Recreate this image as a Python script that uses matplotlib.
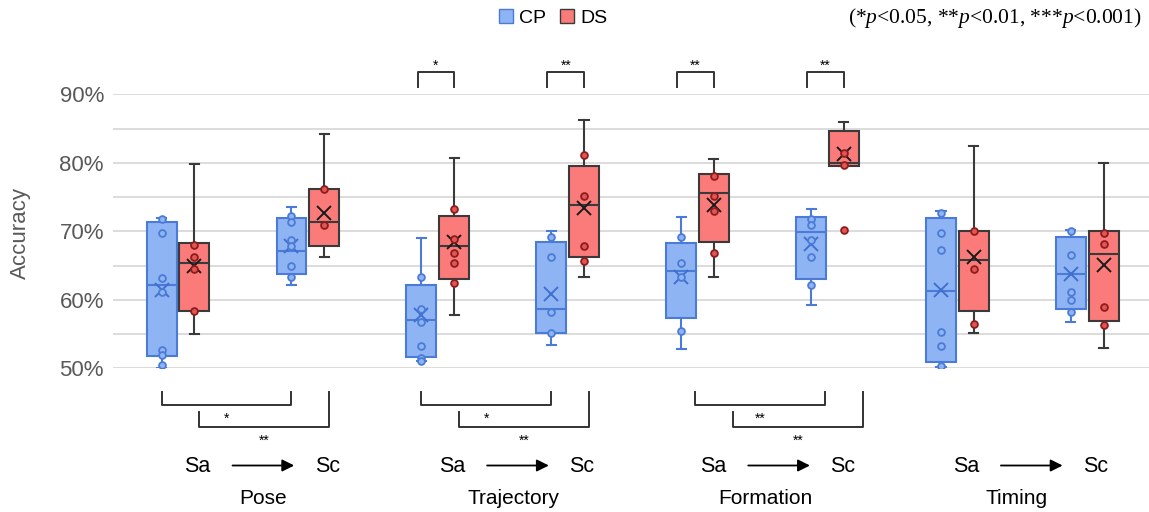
import matplotlib.pyplot as plt
from matplotlib.patches import Patch
from matplotlib.ticker import FuncFormatter, MultipleLocator

plt.rcParams['font.family'] = ['Liberation Sans', 'DejaVu Sans']
plt.rcParams['mathtext.fontset'] = 'custom'
plt.rcParams['mathtext.rm'] = 'Liberation Serif'
plt.rcParams['mathtext.it'] = 'Liberation Serif:italic'

# ===== dados (ordem: Pose Sa, Pose Sc, Traj Sa, Traj Sc, Form Sa, Form Sc, Tim Sa, Tim Sc)
tasks = ['Pose', 'Trajectory', 'Formation', 'Timing']
stages = ['Sa', 'Sc']
groups = ['CP', 'DS']

cp_whislo = [50.0, 62.1, 51.0, 53.4, 52.8, 59.3, 50.2, 56.7]
cp_q1 = [51.8, 63.8, 51.7, 55.2, 57.3, 63.1, 50.9, 58.6]
cp_med = [62.1, 67.1, 57.1, 58.6, 64.2, 69.9, 61.3, 63.8]
cp_q3 = [71.3, 71.9, 62.1, 68.4, 68.3, 72.1, 72.0, 69.2]
cp_whishi = [72.0, 73.6, 69.0, 70.1, 72.1, 73.2, 72.9, 70.2]
cp_mean = [61.5, 67.8, 57.8, 60.9, 63.4, 68.2, 61.4, 63.8]
cp_points = [
    [71.8, 69.8, 63.2, 61.1, 52.6, 51.9, 50.5],
    [72.2, 71.3, 68.8, 67.9, 65.0, 63.4],
    [63.3, 58.6, 56.8, 53.2, 51.5, 51.0],
    [69.2, 66.3, 58.2, 55.1],
    [69.2, 65.3, 63.3, 55.4],
    [71.8, 70.9, 68.8, 66.2, 62.1],
    [72.7, 69.8, 67.3, 55.3, 53.2, 50.3],
    [70.1, 66.6, 61.2, 60.0, 58.2],
]

ds_whislo = [55.0, 66.2, 57.8, 63.3, 63.3, 79.6, 55.1, 53.0]
ds_q1 = [58.4, 67.8, 63.1, 66.3, 68.4, 79.6, 58.4, 56.9]
ds_med = [65.4, 71.4, 67.8, 73.8, 75.6, 80.0, 65.8, 66.7]
ds_q3 = [68.3, 76.2, 72.3, 79.6, 78.4, 84.7, 70.1, 70.0]
ds_whishi = [79.8, 84.2, 80.7, 86.3, 80.6, 85.9, 82.5, 80.0]
ds_mean = [64.9, 72.7, 68.5, 73.4, 73.9, 81.3, 66.2, 65.1]
ds_points = [
    [68.0, 66.2, 64.5, 58.4],
    [76.2, 70.9],
    [73.3, 68.9, 66.8, 65.3, 62.4],
    [81.1, 75.2, 67.8, 65.7],
    [78.0, 75.2, 72.9, 66.9],
    [81.4, 79.7, 70.2],
    [70.0, 64.5, 56.4],
    [69.8, 68.2, 59.0, 56.3],
]

# significancia CP x DS (colchetes de cima)
top_slots = [2, 3, 4, 5]
top_marks = ['*', '**', '**', '**']
# significancia Sa x Sc (colchetes de baixo), por tarefa
bottom_tasks = [0, 1, 2]
bottom_cp_marks = ['*', '*', '**']
bottom_ds_marks = ['**', '**', '**']

# ===== estilo
cp_face, cp_edge = '#8fb4f4', '#4a7bd6'
ds_face, ds_edge = '#fb7b7b', '#3a3a3a'
grid_c = '#d9d9d9'
px = 6.85  # pixels por ponto percentual
off = 0.126

fig = plt.figure(figsize=(11.49, 5.12), dpi=100)
ax = fig.add_axes([113 / 1149, (512 - 368.3) / 512, (1149 - 113) / 1149, 274 / 512])

n = len(cp_med)
cp_pos = [k - off for k in range(n)]
ds_pos = [k + off for k in range(n)]


def stats(lo, q1, med, q3, hi, mean):
    return [dict(whislo=lo[i], q1=q1[i], med=med[i], q3=q3[i], whishi=hi[i], mean=mean[i])
            for i in range(len(med))]


for st, pos, fc, ec, mc, pts, pfc, pec in [
        (stats(cp_whislo, cp_q1, cp_med, cp_q3, cp_whishi, cp_mean), cp_pos, cp_face, cp_edge, '#3f6fcf',
         cp_points, cp_face, '#4a7bd6'),
        (stats(ds_whislo, ds_q1, ds_med, ds_q3, ds_whishi, ds_mean), ds_pos, ds_face, ds_edge, '#1a1a1a',
         ds_points, '#e25555', '#8e1c1c')]:
    ax.bxp(st, positions=pos, widths=0.23, capwidths=0.07, patch_artist=True,
           showmeans=True, showfliers=False,
           boxprops=dict(facecolor=fc, edgecolor=ec, linewidth=1.5),
           medianprops=dict(color=ec, linewidth=1.5),
           whiskerprops=dict(color=ec, linewidth=1.5),
           capprops=dict(color=ec, linewidth=1.5),
           meanprops=dict(marker='x', markeredgecolor=mc, markersize=10, markeredgewidth=1.4),
           zorder=3)
    for x, p in zip(pos, pts):
        ax.scatter([x] * len(p), p, s=24, facecolor=pfc, edgecolor=pec, linewidth=1.3, zorder=4)

ax.set_xlim(-0.5, (1149 - 178) / 129.9)
ax.set_ylim(50, 90)
ax.yaxis.set_major_locator(MultipleLocator(10))
ax.yaxis.set_minor_locator(MultipleLocator(5))
ax.yaxis.set_major_formatter(FuncFormatter(lambda v, _: f'{v:.0f}%'))
ax.tick_params(axis='y', which='both', length=0, pad=6.5, labelsize=16, labelcolor='#595959')
ax.set_xticks([])
ax.grid(True, axis='y', which='both', color=grid_c, linewidth=1.3, zorder=0)
ax.set_axisbelow(True)
for s in ax.spines.values():
    s.set_visible(False)

fig.text(20 / 1149, 1 - 233 / 512, 'Accuracy', rotation=90, ha='center', va='center',
         fontsize=16, color='#595959')


def y_of(py):
    return 50 + (368.3 - py) / px


kw = dict(color='#333333', linewidth=1.4, clip_on=False)

# colchetes de cima
for k, m in zip(top_slots, top_marks):
    x1, x2 = cp_pos[k] - 0.03, ds_pos[k]
    ax.plot([x1, x1, x2, x2], [y_of(86.7), y_of(71.7), y_of(71.7), y_of(86.7)], **kw)
    ax.text((x1 + x2) / 2, y_of(70), m, ha='center', va='baseline', fontsize=10, clip_on=False)

# colchetes de baixo
shift_a = [0.0, 0.0, 0.105]
shift_b = [0.036, 0.04, 0.148]
for g, ma, mb in zip(bottom_tasks, bottom_cp_marks, bottom_ds_marks):
    a1, a2 = cp_pos[2 * g] + shift_a[g], cp_pos[2 * g + 1] + shift_a[g]
    b1, b2 = ds_pos[2 * g] + shift_b[g], ds_pos[2 * g + 1] + shift_b[g]
    ax.plot([a1, a1, a2, a2], [y_of(392), y_of(405), y_of(405), y_of(392)], **kw)
    ax.plot([b1, b1, b2, b2], [y_of(411.7), y_of(426.7), y_of(426.7), y_of(392.5)], **kw)
    ax.text((a1 + a2) / 2, y_of(423), ma, ha='center', va='baseline', fontsize=10, clip_on=False)
    ax.text((b1 + b2) / 2, y_of(445), mb, ha='center', va='baseline', fontsize=10, clip_on=False)

# Sa -> Sc e nomes das tarefas
text_shift = [0.15, 0.11, 0.12, 0.065]
name_shift = [0.157, 0.081, 0.019, -0.043]
for g, name in enumerate(tasks):
    xs = 2 * g + text_shift[g]
    ax.text(xs, y_of(466.5), stages[0], ha='center', va='center', fontsize=15.5, clip_on=False)
    ax.text(xs + 1, y_of(466.5), stages[1], ha='center', va='center', fontsize=15.5, clip_on=False)
    ax.annotate('', xy=(xs + 0.745, y_of(465.5)), xytext=(xs + 0.27, y_of(465.5)),
                arrowprops=dict(arrowstyle='-|>', color='black', lw=1.3, mutation_scale=18,
                                shrinkA=0, shrinkB=0),
                annotation_clip=False)
    ax.text(2 * g + 0.5 + name_shift[g], y_of(498.5), name, ha='center', va='center',
            fontsize=15, clip_on=False)

# legenda
handles = [Patch(facecolor=cp_face, edgecolor=cp_edge), Patch(facecolor=ds_face, edgecolor=ds_edge)]
fig.legend(handles, groups, loc='center', bbox_to_anchor=(553 / 1149, 1 - 18 / 512), ncol=2,
           frameon=False, handlelength=0.75, handleheight=0.75, handletextpad=0.3,
           columnspacing=0.7, fontsize=14)

fig.text(1142 / 1149, 1 - 18 / 512,
         r'(*$\it{p}$<0.05, **$\it{p}$<0.01, ***$\it{p}$<0.001)',
         ha='right', va='center', fontsize=15.5, family='Liberation Serif')

fig.savefig('out.png', dpi=100)
